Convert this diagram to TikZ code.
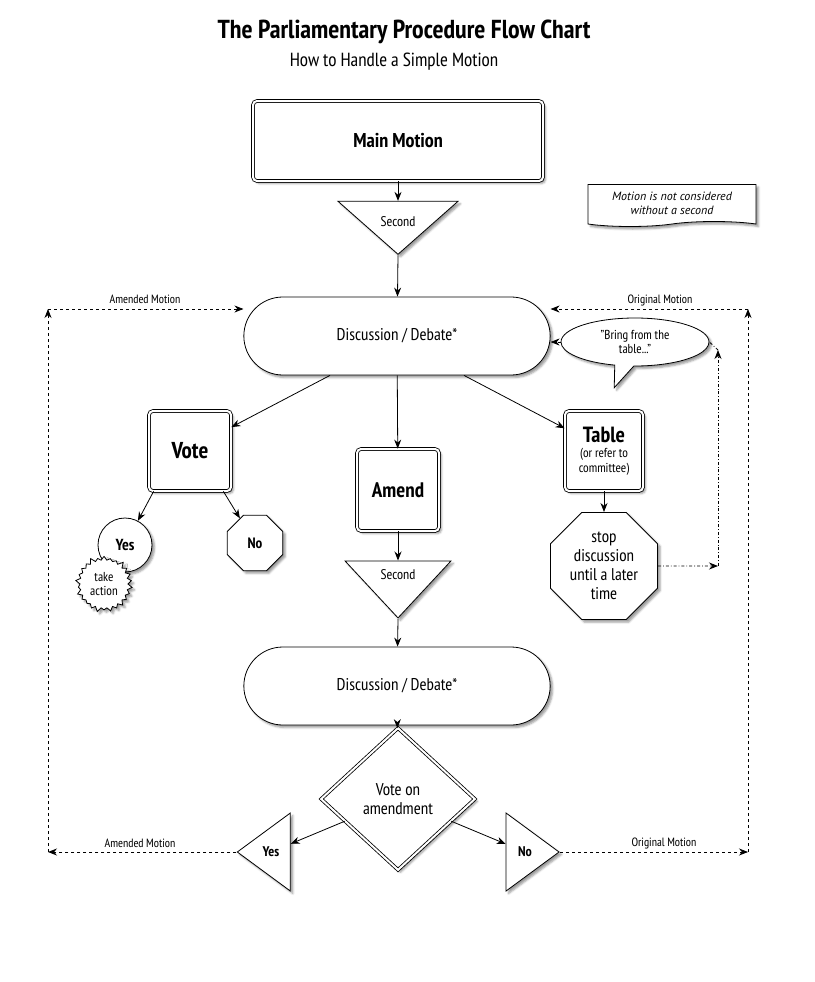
\documentclass[tikz,border=0pt]{standalone}
\usepackage{fontspec}
\setmainfont{PT Sans Narrow}
\newfontfamily\notefont{PT Sans}
\usetikzlibrary{arrows.meta,positioning,shapes.geometric,shapes.symbols,shapes.callouts,shapes.misc,shadows.blur}

\begin{document}
\begin{tikzpicture}[x=1pt, y=-1pt, >={Stealth[length=9pt,width=7pt]}, line width=0.8pt,
			dbox/.style={draw, double, double distance=2pt, rounded corners=4pt, fill=white, blur shadow, align=center},
			talk/.style={draw, rounded rectangle, fill=white, blur shadow, minimum width=313pt, minimum height=78pt, font=\fontsize{17}{19}\selectfont},
			downTri/.style={draw, isosceles triangle, isosceles triangle stretches, shape border rotate=270, fill=white, blur shadow, inner sep=0pt},
			sideTri/.style={draw, isosceles triangle, isosceles triangle stretches, fill=white, blur shadow, inner sep=0pt, minimum width=78pt, minimum height=53pt, font=\bfseries\fontsize{14}{16}\selectfont},
			oct/.style={draw, regular polygon, regular polygon sides=8, fill=white, blur shadow, inner sep=0pt, align=center},
			plainLabel/.style={font=\fontsize{12}{14}\selectfont},
			amendLine/.style={dashed, ->},
			tableLine/.style={dash dot, ->}
			]
			\useasboundingbox (0,0) rectangle (814,982);
			
			\node[font=\bfseries\fontsize{26}{29}\selectfont](title) at (404,32) {The Parliamentary Procedure Flow Chart};
			\node[font=\fontsize{19}{21}\selectfont](subtitle) at (394,62) {How to Handle a Simple Motion};
			
			\node[dbox, minimum width=290pt, minimum height=80pt, font=\bfseries\fontsize{20}{22}\selectfont](main) at (398,141) {Main Motion};
			\node[downTri, minimum width=120pt, minimum height=53pt](sec1) at (398,224) {};
			\node[plainLabel, font=\fontsize{14}{16}\selectfont](sec1t) at (398,222) {Second};
			\node[draw, tape, tape bend top=none, fill=white, blur shadow, minimum width=168pt, minimum height=42pt, align=center, font=\notefont\itshape\fontsize{12}{14}\selectfont](note) at (672,203) {Motion is not considered\\without a second};
			
			\node[talk](disc1) at (397,336) {Discussion / Debate*};
			\node[draw, ellipse callout, fill=white, blur shadow, callout relative pointer={(-10pt,-22pt)}, minimum width=148pt, minimum height=48pt, align=center, inner sep=1pt, font=\fontsize{13}{14}\selectfont](bring) at (635,342) {"Bring from the\\table..."};
			
			\node[dbox, minimum width=82pt, minimum height=80pt, font=\bfseries\fontsize{23}{25}\selectfont](vote) at (190,451) {Vote};
			\node[dbox, minimum width=82pt, minimum height=82pt, font=\bfseries\fontsize{21}{23}\selectfont](amend) at (398,490) {Amend};
			\node[dbox, minimum width=78pt, minimum height=80pt, font=\fontsize{13}{15}\selectfont](table) at (604,451) {{\bfseries\fontsize{22}{24}\selectfont Table}\\(or refer to\\committee)};
			
			\node[draw, circle, fill=white, blur shadow, minimum size=54pt, font=\bfseries\fontsize{16}{18}\selectfont](yes1) at (125,545) {Yes};
			\node[draw, starburst, starburst points=26, starburst point height=5pt, fill=white, blur shadow, minimum width=58pt, minimum height=58pt, align=center, inner sep=0pt, font=\fontsize{13}{14}\selectfont](act) at (104,584) {take\\action};
			\node[oct, minimum size=60pt, font=\bfseries\fontsize{15}{17}\selectfont](no1) at (255,543) {No};
			
			\node[downTri, minimum width=106pt, minimum height=57pt](sec2) at (398,584) {};
			\node[plainLabel, font=\fontsize{14}{16}\selectfont](sec2t) at (398,575) {Second};
			\node[oct, minimum size=116pt, font=\fontsize{17}{19}\selectfont](stop) at (604,566) {stop\\discussion\\until a later\\time};
			
			\node[talk](disc2) at (397,686) {Discussion / Debate*};
			\node[draw, diamond, double, double distance=2pt, fill=white, blur shadow, minimum width=154pt, minimum height=142pt, inner sep=0pt, align=center, font=\fontsize{17}{19}\selectfont](vamend) at (398,799) {Vote on\\amendment};
			
			\node[sideTri, shape border rotate=180](yes2) at (271,852) {Yes};
			\node[sideTri](no2) at (525,852) {No};
			
			% amended / original motion loops
			\coordinate (aBot) at (48,852);
			\coordinate (aTop) at (48,309);
			\coordinate (oBot) at (748,852);
			\coordinate (oTop) at (748,309);
			\node[plainLabel](amTop) at (145,299) {Amended Motion};
			\node[plainLabel](orTop) at (660,300) {Original Motion};
			\node[plainLabel](amBot) at (140,843) {Amended Motion};
			\node[plainLabel](orBot) at (664,843) {Original Motion};
			
			\coordinate (tBot) at (718,566);
			\coordinate (tTop) at (718,350);
			
			\draw[->] (main) -- (sec1.north);
			\draw[->] (sec1.south) -- (disc1);
			\draw[->] ([xshift=-67pt]disc1.south) -- (vote.30);
			\draw[->] (disc1) -- (amend);
			\draw[->] ([xshift=67pt]disc1.south) -- (table.150);
			\draw[->] ([xshift=5pt]vote.south west) -- (yes1);
			\draw[->] ([xshift=-8pt]vote.south east) -- (no1);
			\draw[->] (table) -- (stop);
			\draw[->] (amend) -- (sec2.north);
			\draw[->] (sec2.south) -- (disc2);
			\draw[->] (disc2) -- (vamend);
			\draw[->] (vamend) -- (yes2);
			\draw[->] (vamend) -- (no2);
			
			\draw[amendLine] (yes2.apex) -- (aBot);
			\draw[amendLine] (aBot) -- (aTop);
			\draw[amendLine] (aTop) -- (aTop -| disc1.west);
			\draw[amendLine] (no2.apex) -- (oBot);
			\draw[amendLine] (oBot) -- (oTop);
			\draw[amendLine] (oTop) -- (oTop -| disc1.east);
			
			\draw[tableLine] (stop.east) -- (tBot);
			\draw[tableLine] (tBot) -- (tTop);
			\draw[dash dot] (tTop) -- (bring.east);
			\draw[tableLine] (bring.west) -- (bring.west -| disc1.east);
\end{tikzpicture}
\end{document}
